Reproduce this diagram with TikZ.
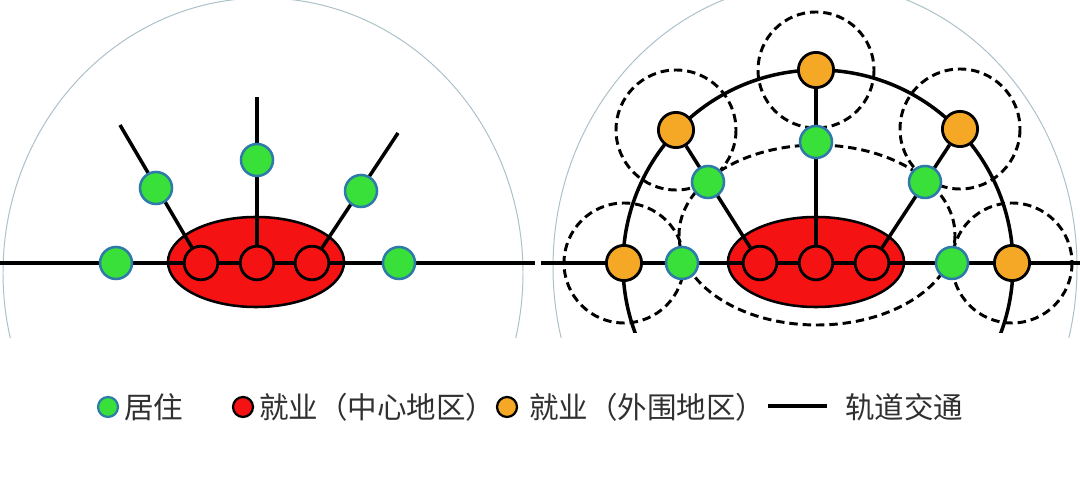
\documentclass[tikz,border=0pt]{standalone}
\usepackage{fontspec}
\newfontfamily\cjk{Noto Sans CJK SC}
\usetikzlibrary{shapes.geometric,backgrounds}
\definecolor{homegreen}{RGB}{58,224,58}
\definecolor{homeedge}{RGB}{46,122,168}
\definecolor{corered}{RGB}{245,18,18}
\definecolor{outerorange}{RGB}{245,168,38}
\definecolor{boundgray}{RGB}{172,192,200}
\definecolor{keytext}{RGB}{48,48,48}

\begin{document}
\begin{tikzpicture}[x=0.025cm,y=-0.025cm,
  home node/.style={circle,fill=homegreen,draw=homeedge,line width=1.8pt,minimum size=0.8cm,inner sep=0pt},
  core node/.style={circle,fill=corered,draw=black,line width=2pt,minimum size=0.84cm,inner sep=0pt},
  outer node/.style={circle,fill=outerorange,draw=black,line width=2pt,minimum size=0.88cm,inner sep=0pt},
  core zone/.style={ellipse,fill=corered,draw=black,line width=1.8pt,minimum width=4.4cm,minimum height=2.25cm,inner sep=0pt},
  key dot/.style={minimum size=0.5cm,line width=1.6pt},
  rail/.style={draw=black,line width=2.5pt},
  reach/.style={draw=black,line width=2.1pt,dash pattern=on 6pt off 3.5pt},
  bound/.style={draw=boundgray,line width=0.7pt},
  key text/.style={anchor=west,inner sep=0pt,text=keytext,font=\cjk\fontsize{21}{25}\selectfont}]

  \useasboundingbox (0,0) rectangle (1080,477);

  % single centre
  \node[home node] (g1) at (116,263) {};
  \node[home node] (g2) at (156,188) {};
  \node[home node] (g3) at (257,160) {};
  \node[home node] (g4) at (361,191) {};
  \node[home node] (g5) at (399,263) {};
  \node[core node] (c1) at (201,263) {};
  \node[core node] (c2) at (257,263) {};
  \node[core node] (c3) at (312,263) {};
  \coordinate (t1) at (120,125);
  \coordinate (t2) at (257,97);
  \coordinate (t3) at (398,133);
  \coordinate (la) at (0,263);
  \coordinate (lb) at (535,263);

  % multi centre
  \node[outer node] (o1) at (624,263) {};
  \node[outer node] (o2) at (676,130) {};
  \node[outer node] (o3) at (816,70) {};
  \node[outer node] (o4) at (960,129) {};
  \node[outer node] (o5) at (1012,263) {};
  \node[home node] (h1) at (682,263) {};
  \node[home node] (h2) at (708,182) {};
  \node[home node] (h3) at (816,142) {};
  \node[home node] (h4) at (925,182) {};
  \node[home node] (h5) at (952,263) {};
  \node[core node] (d1) at (760,263) {};
  \node[core node] (d2) at (816,263) {};
  \node[core node] (d3) at (872,263) {};
  \coordinate (ra) at (541,263);
  \coordinate (rb) at (1080,263);

  \begin{scope}[on background layer]
    \begin{scope}
      \clip (0,0) rectangle (1080,338);
      \draw[bound] (263,273) ellipse [x radius=260, y radius=275];
      \draw[bound] (815,267) ellipse [x radius=262, y radius=285];
    \end{scope}
    \node[core zone] (cbd1) at (256,262) {};
    \node[core zone] (cbd2) at (816,262) {};
    \path[rail]
      (la) edge (lb)
      (c1) edge (t1)
      (c2) edge (t2)
      (c3) edge (t3)
      (ra) edge (rb)
      (d1) edge (o2)
      (d2) edge (o3)
      (d3) edge (o4);
    \begin{scope}
      \clip (540,0) rectangle (1080,333);
      \draw[rail] (818,265) circle [radius=195];
    \end{scope}
    \draw[reach] (817,235) ellipse [x radius=138, y radius=90];
    \foreach \o in {o1,o2,o4,o5}
      \draw[reach] (\o) circle [radius=60];
    \draw[reach] (o3) circle [radius=58];
  \end{scope}

  % legend
  \node[home node,key dot] (key1) at (108,407) {};
  \node[key text] (lab1) at (124,407) {居住};
  \node[core node,key dot] (key2) at (243,407) {};
  \node[key text] (lab2) at (259,407) {就业（中心地区）};
  \node[outer node,key dot] (key3) at (507,407) {};
  \node[key text] (lab3) at (529,407) {就业（外围地区）};
  \coordinate (key4a) at (768,406);
  \coordinate (key4b) at (827,406);
  \draw[rail] (key4a) -- (key4b);
  \node[key text] (lab4) at (845,407) {轨道交通};
\end{tikzpicture}
\end{document}
